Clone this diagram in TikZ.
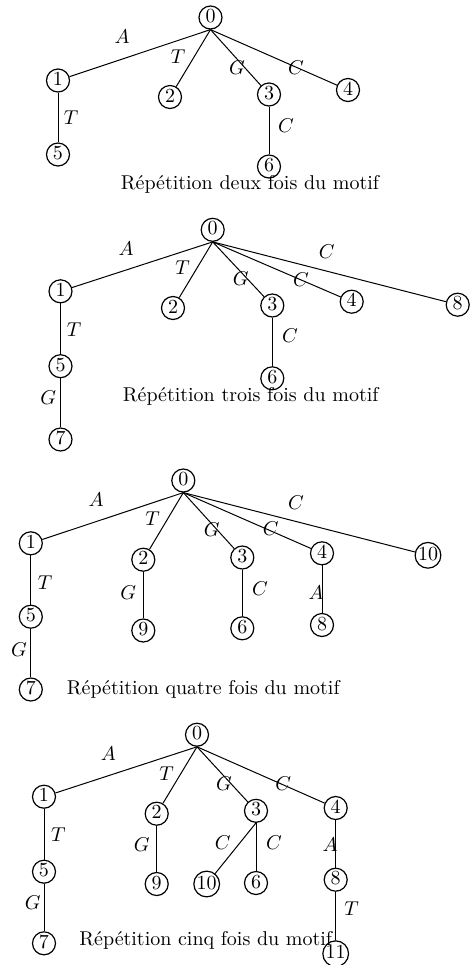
\documentclass[tikz,border=0pt]{standalone}
\begin{document}
\begin{tikzpicture}[x=0.5pt,y=-0.5pt,
  st/.style={circle,draw,line width=0.6pt,minimum size=11.5pt,inner sep=0pt,text depth=1.5pt},
  lbl/.style={inner sep=0pt},
  captxt/.style={inner sep=0pt},
  conn/.style={line width=0.5pt}]
\useasboundingbox (0,0) rectangle (473,965);
% ---------- Tree 1 ----------
\node[st] (a0) at (210.5,17.5) {0};
\node[st] (a1) at (58,80.5) {1};
\node[st] (a2) at (170,97) {2};
\node[st] (a3) at (269,94.5) {3};
\node[st] (a4) at (348,90) {4};
\node[st] (a5) at (58,154.5) {5};
\node[st] (a6) at (269,166.5) {6};
\draw[conn] (a0.south) -- (a1);
\draw[conn] (a0.south) -- (a2);
\draw[conn] (a0.south) -- (a3);
\draw[conn] (a0.south) -- (a4);
\draw[conn] (a1) -- (a5);
\draw[conn] (a3) -- (a6);
\node[lbl] (la1) at (122,37) {$A$};
\node[lbl] (la2) at (178,57) {$T$};
\node[lbl] (la3) at (237,68) {$G$};
\node[lbl] (la4) at (296,68) {$C$};
\node[lbl] (la5) at (71,118) {$T$};
\node[lbl] (la6) at (286,126) {$C$};
\node[captxt] (capa) at (250,184) {Répétition deux fois du motif};
% ---------- Tree 2 ----------
\node[st] (b0) at (212.7,229.8) {0};
\node[st] (b1) at (60.5,291.3) {1};
\node[st] (b2) at (173,308) {2};
\node[st] (b3) at (272.3,305.5) {3};
\node[st] (b4) at (351.7,301.7) {4};
\node[st] (b8) at (457.7,304.7) {8};
\node[st] (b5) at (60.5,366.2) {5};
\node[st] (b6) at (272.3,378.3) {6};
\node[st] (b7) at (60.5,439.5) {7};
\draw[conn] (b0.south) -- (b1);
\draw[conn] (b0.south) -- (b2);
\draw[conn] (b0.south) -- (b3);
\draw[conn] (b0.south) -- (b4);
\draw[conn] (b0.south) -- (b8);
\draw[conn] (b1) -- (b5);
\draw[conn] (b5) -- (b7);
\draw[conn] (b3) -- (b6);
\node[lbl] (lb1) at (126,249) {$A$};
\node[lbl] (lb2) at (182.7,267.7) {$T$};
\node[lbl] (lb3) at (240.7,279) {$G$};
\node[lbl] (lb4) at (301,279.3) {$C$};
\node[lbl] (lb5) at (326.7,251.7) {$C$};
\node[lbl] (lb6) at (74,330) {$T$};
\node[lbl] (lb7) at (290,336) {$C$};
\node[lbl] (lb8) at (48.3,397.3) {$G$};
\node[captxt] (capb) at (250.7,396.7) {Répétition trois fois du motif};
% ---------- Tree 3 ----------
\node[st] (c0) at (183.3,480.5) {0};
\node[st] (c1) at (30.8,543.3) {1};
\node[st] (c2) at (143.3,559.7) {2};
\node[st] (c3) at (242.3,557.5) {3};
\node[st] (c4) at (322,553.3) {4};
\node[st] (c10) at (428,555.3) {10};
\node[st] (c5) at (30.8,616.7) {5};
\node[st] (c9) at (143.3,630.5) {9};
\node[st] (c6) at (242.3,628.3) {6};
\node[st] (c8) at (322,625) {8};
\node[st] (c7) at (30.8,689.5) {7};
\draw[conn] (c0.south) -- (c1);
\draw[conn] (c0.south) -- (c2);
\draw[conn] (c0.south) -- (c3);
\draw[conn] (c0.south) -- (c4);
\draw[conn] (c0.south) -- (c10);
\draw[conn] (c1) -- (c5);
\draw[conn] (c5) -- (c7);
\draw[conn] (c2) -- (c9);
\draw[conn] (c3) -- (c6);
\draw[conn] (c4) -- (c8);
\node[lbl] (lc1) at (96,500) {$A$};
\node[lbl] (lc2) at (152.7,518.3) {$T$};
\node[lbl] (lc3) at (211.7,529.3) {$G$};
\node[lbl] (lc4) at (270.7,528.3) {$C$};
\node[lbl] (lc5) at (296,502.7) {$C$};
\node[lbl] (lc6) at (45,582.7) {$T$};
\node[lbl] (lc7) at (128.3,592.7) {$G$};
\node[lbl] (lc8) at (260,588.3) {$C$};
\node[lbl] (lc9) at (316,592.7) {$A$};
\node[lbl] (lc10) at (19,649.3) {$G$};
\node[captxt] (capc) at (203.3,689.3) {Répétition quatre fois du motif};
% ---------- Tree 4 ----------
\node[st] (d0) at (197,734.7) {0};
\node[st] (d1) at (44,796.7) {1};
\node[st] (d2) at (156.7,813.7) {2};
\node[st] (d3) at (256,810.8) {3};
\node[st] (d4) at (335.7,808) {4};
\node[st] (d5) at (44,871.7) {5};
\node[st] (d9) at (156.7,884) {9};
\node[st] (d10) at (206.7,884) {10};
\node[st] (d6) at (256,883) {6};
\node[st] (d8) at (335.7,879.7) {8};
\node[st] (d7) at (44,943.3) {7};
\node[st] (d11) at (335.7,953.7) {11};
\draw[conn] (d0.south) -- (d1);
\draw[conn] (d0.south) -- (d2);
\draw[conn] (d0.south) -- (d3);
\draw[conn] (d0.south) -- (d4);
\draw[conn] (d1) -- (d5);
\draw[conn] (d5) -- (d7);
\draw[conn] (d2) -- (d9);
\draw[conn] (d3.south) -- (d10);
\draw[conn] (d3) -- (d6);
\draw[conn] (d4) -- (d8);
\draw[conn] (d8) -- (d11);
\node[lbl] (ld1) at (108.3,753.3) {$A$};
\node[lbl] (ld2) at (166.7,773.3) {$T$};
\node[lbl] (ld3) at (224,783.3) {$G$};
\node[lbl] (ld4) at (283.3,783.3) {$C$};
\node[lbl] (ld5) at (58.3,835) {$T$};
\node[lbl] (ld6) at (141.7,845) {$G$};
\node[lbl] (ld7) at (222.7,842.7) {$C$};
\node[lbl] (ld8) at (274,842.7) {$C$};
\node[lbl] (ld9) at (330,845) {$A$};
\node[lbl] (ld10) at (32.7,902.7) {$G$};
\node[lbl] (ld11) at (351.7,908.3) {$T$};
\node[captxt] (capd) at (205.8,940) {Répétition cinq fois du motif};
\end{tikzpicture}
\end{document}
